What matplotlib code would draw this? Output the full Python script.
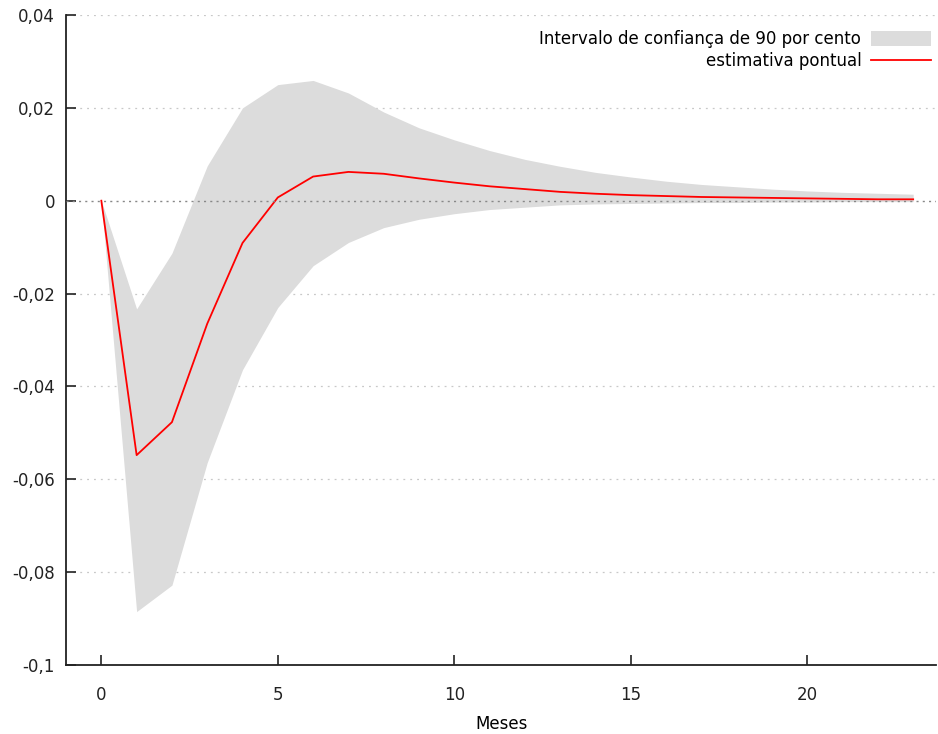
import matplotlib
matplotlib.use("Agg")
import matplotlib.pyplot as plt
from matplotlib.ticker import FixedLocator, FixedFormatter

months = list(range(24))
estimate = [0.0, -0.0548, -0.0477, -0.0265, -0.0091, 0.0007, 0.0052, 0.0062, 0.0058, 0.0048,
            0.0039, 0.0031, 0.0025, 0.0019, 0.0015, 0.0012, 0.0010, 0.0008, 0.0007, 0.0006,
            0.0005, 0.0004, 0.0003, 0.0003]
upper = [0.0, -0.0233, -0.0113, 0.0075, 0.0200, 0.0250, 0.0259, 0.0232, 0.0191, 0.0157,
         0.0131, 0.0108, 0.0089, 0.0074, 0.0061, 0.0051, 0.0042, 0.0035, 0.0030, 0.0025,
         0.0021, 0.0018, 0.0016, 0.0014]
lower = [0.0, -0.0885, -0.0828, -0.0564, -0.0364, -0.0230, -0.0140, -0.0090, -0.0058, -0.0040,
         -0.0028, -0.0019, -0.0014, -0.0009, -0.0007, -0.0006, -0.0005, -0.0004, -0.0004, -0.0003,
         -0.0003, -0.0002, -0.0002, -0.0002]
ytick_values = [0.04, 0.02, 0.0, -0.02, -0.04, -0.06, -0.08, -0.1]
ytick_labels = ["0,04", "0,02", "0", "-0,02", "-0,04", "-0,06", "-0,08", "-0,1"]
xtick_values = [0, 5, 10, 15, 20]
xtick_labels = ["0", "5", "10", "15", "20"]

plt.rcParams['font.family'] = ['DejaVu Sans']
fig = plt.figure(figsize=(9.38, 7.34), dpi=100)
ax = fig.add_axes([0.0704, 0.094, 0.9276, 0.8856])

ax.fill_between(months, lower, upper, color="#dcdcdc", linewidth=0,
                label="Intervalo de confiança de 90 por cento")
ax.plot(months, estimate, color="#ff0000", linewidth=1.3, label="estimativa pontual")

ax.set_xlim(-1, 23.65)
ax.set_ylim(-0.1, 0.04)

for v in ytick_values:
    if v != 0:
        ax.axhline(v, color="#c8c8c8", linestyle=(0, (1.5, 4)), linewidth=0.9, zorder=0.5)
ax.axhline(0, color="#888888", linestyle=(0, (1.5, 3)), linewidth=1.0, zorder=3)

ax.yaxis.set_major_locator(FixedLocator(ytick_values))
ax.yaxis.set_major_formatter(FixedFormatter(ytick_labels))
ax.xaxis.set_major_locator(FixedLocator(xtick_values))
ax.xaxis.set_major_formatter(FixedFormatter(xtick_labels))

for s in ["top", "right"]:
    ax.spines[s].set_visible(False)
for s in ["left", "bottom"]:
    ax.spines[s].set_linewidth(1.3)
    ax.spines[s].set_color("#222222")

ax.tick_params(axis="both", direction="in", length=7, width=1.2, labelsize=12,
               colors="#222222")
ax.tick_params(axis="x", pad=15)
ax.tick_params(axis="y", pad=8)
ax.set_xlabel("Meses", fontsize=12, labelpad=8)

leg = ax.legend(loc="upper right", frameon=False, markerfirst=False, fontsize=12,
                handlelength=3.6, handleheight=1.0, borderaxespad=0.2,
                bbox_to_anchor=(1.006, 0.992), labelspacing=0.25, handletextpad=0.6)
for t in leg.get_texts():
    t.set_ha("right")

fig.savefig("out.png", dpi=100)
